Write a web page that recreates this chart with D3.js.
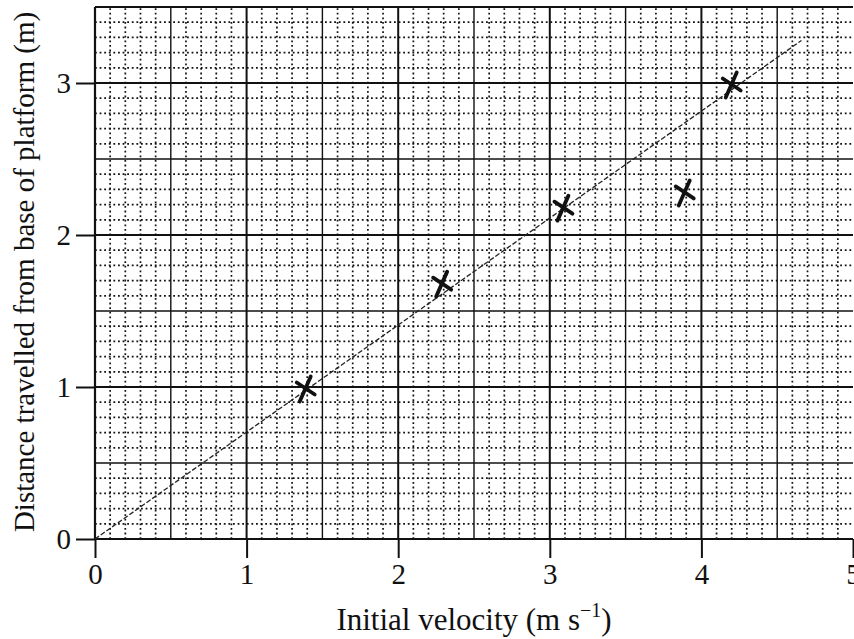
<!DOCTYPE html>
<html>
<head>
<meta charset="utf-8">
<script src="https://cdn.jsdelivr.net/npm/d3@7"></script>
<style>
  body { margin: 0; background: #fff; }
  text { font-family: "Liberation Serif", "DejaVu Serif", serif; fill: #111; }
  .axis path { display: none; }
  .axis line { stroke: #111; stroke-width: 2; }
</style>
</head>
<body>
<div id="chart"></div>
<script>
// values
var velocity = [1.39, 2.29, 3.09, 3.89, 4.2];
var distance = [0.99, 1.68, 2.18, 2.28, 2.99];
var fitX = [0, 4.66];
var fitY = [0, 3.28];
var xTicks = [0, 1, 2, 3, 4, 5];
var yTicks = [0, 1, 2, 3];

var width = 854, height = 639;
var plotLeft = 95, plotRight = 853, plotTop = 7, plotBottom = 539;

var svg = d3.select('#chart').append('svg')
  .attr('width', width)
  .attr('height', height);

var x = d3.scaleLinear().domain([0, 5]).range([plotLeft, plotRight]);
var y = d3.scaleLinear().domain([0, 3.5]).range([plotBottom, plotTop]);

//Grid: dotted every 0.1, solid every 0.5, heavier at whole numbers
var xMinor = d3.range(1, 50).map(function(i) { return i / 10; });
var yMinor = d3.range(1, 35).map(function(i) { return i / 10; });
var grid = svg.append('g').attr('class', 'grid');

function lineStyle(v) {
  var k = Math.round(v * 10);
  if (k % 10 === 0) return { w: 2, dash: null };
  if (k % 5 === 0) return { w: 1.4, dash: null };
  return { w: 1.7, dash: '1.8,2.8' };
}

grid.selectAll('.vx')
  .data(xMinor)
  .enter().append('line')
  .attr('x1', function(d) { return x(d); })
  .attr('x2', function(d) { return x(d); })
  .attr('y1', y(0))
  .attr('y2', y(3.5))
  .attr('stroke', '#111')
  .attr('stroke-width', function(d) { return lineStyle(d).w; })
  .attr('stroke-dasharray', function(d) { return lineStyle(d).dash; });

grid.selectAll('.hy')
  .data(yMinor)
  .enter().append('line')
  .attr('x1', x(0))
  .attr('x2', x(5))
  .attr('y1', function(d) { return y(d); })
  .attr('y2', function(d) { return y(d); })
  .attr('stroke', '#111')
  .attr('stroke-width', function(d) { return lineStyle(d).w; })
  .attr('stroke-dasharray', function(d) { return lineStyle(d).dash; });

//Frame
svg.append('line').attr('x1', x(0)).attr('x2', x(5)).attr('y1', y(3.5)).attr('y2', y(3.5))
  .attr('stroke', '#111').attr('stroke-width', 2);
svg.append('line').attr('x1', x(0)).attr('x2', x(5)).attr('y1', y(0)).attr('y2', y(0))
  .attr('stroke', '#111').attr('stroke-width', 2.2);
svg.append('line').attr('x1', x(0)).attr('x2', x(0)).attr('y1', y(0)).attr('y2', y(3.5))
  .attr('stroke', '#111').attr('stroke-width', 2.2);

//Axes
svg.append('g')
  .attr('class', 'x axis')
  .attr('transform', 'translate(0,' + plotBottom + ')')
  .call(d3.axisBottom(x).tickValues(xTicks).tickSize(19).tickPadding(5).tickFormat(d3.format('d')))
  .selectAll('text')
  .style('font-size', '29px')
  .attr('fill', '#111');

svg.append('g')
  .attr('class', 'y axis')
  .attr('transform', 'translate(' + plotLeft + ',0)')
  .call(d3.axisLeft(y).tickValues(yTicks).tickSize(19).tickPadding(5).tickFormat(d3.format('d')))
  .selectAll('text')
  .style('font-size', '29px')
  .attr('fill', '#111');

//Axis labels
var xl = svg.append('text')
  .attr('x', 474)
  .attr('y', 630)
  .attr('text-anchor', 'middle')
  .style('font-size', '31px')
  .text('Initial velocity (m s');
xl.append('tspan').attr('dy', -13).style('font-size', '20px').text('\u22121');
xl.append('tspan').attr('dy', 13).text(')');

svg.append('text')
  .attr('transform', 'translate(34,272) rotate(-90)')
  .attr('text-anchor', 'middle')
  .style('font-size', '29px')
  .text('Distance travelled from base of platform (m)');

//Best fit line
svg.append('line')
  .attr('x1', x(fitX[0])).attr('y1', y(fitY[0]))
  .attr('x2', x(fitX[1])).attr('y2', y(fitY[1]))
  .attr('stroke', '#222')
  .attr('stroke-width', 1.3)
  .attr('stroke-dasharray', '5,2');

//Hand drawn crosses
var pts = velocity.map(function(v, i) { return { v: v, d: distance[i] }; });
var marks = svg.selectAll('.mark')
  .data(pts)
  .enter().append('g')
  .attr('class', 'mark')
  .attr('transform', function(d) { return 'translate(' + x(d.v) + ',' + y(d.d) + ')'; });

marks.append('line')
  .attr('x1', 5).attr('y1', -12).attr('x2', -6).attr('y2', 13)
  .attr('stroke', '#111').attr('stroke-width', 3.8).attr('stroke-linecap', 'round');
marks.append('line')
  .attr('x1', -9).attr('y1', -6).attr('x2', 9).attr('y2', 6)
  .attr('stroke', '#111').attr('stroke-width', 3.8).attr('stroke-linecap', 'round');
</script>
</body>
</html>
